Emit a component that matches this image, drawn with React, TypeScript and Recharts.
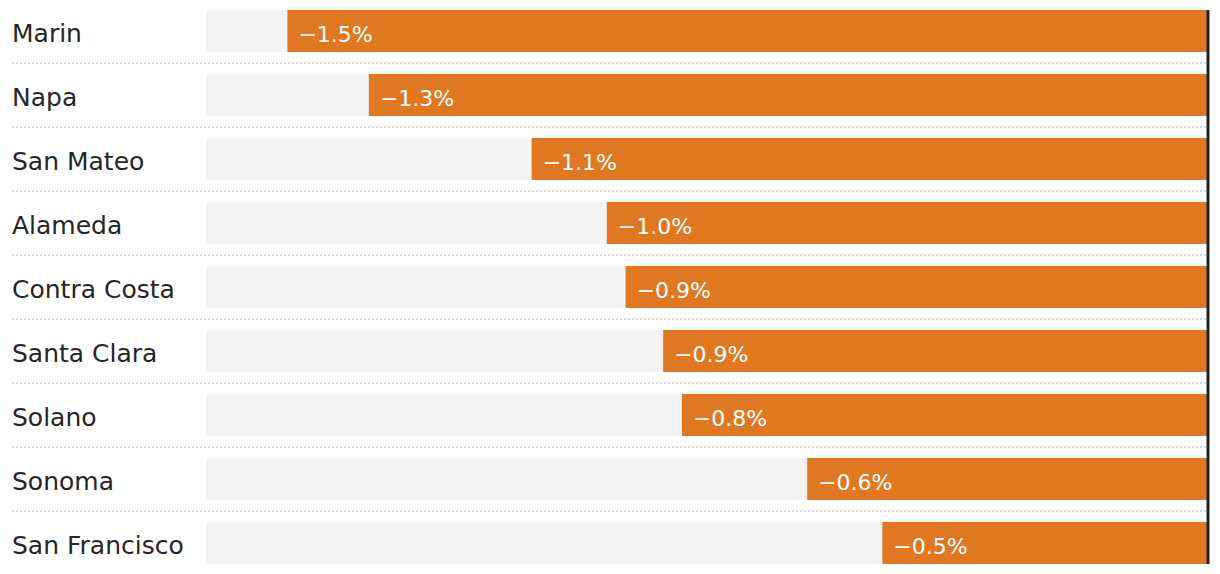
import React from "react";
import { BarChart, Bar, XAxis, YAxis, ReferenceLine, LabelList } from "recharts";

const counties = [
  "Marin",
  "Napa",
  "San Mateo",
  "Alameda",
  "Contra Costa",
  "Santa Clara",
  "Solano",
  "Sonoma",
  "San Francisco",
];
const changes = [-1.47, -1.34, -1.08, -0.96, -0.93, -0.87, -0.84, -0.64, -0.52];

const data = counties.map((c, i) => ({ county: c, change: changes[i] }));

const CHART_W = 1220;
const CHART_H = 574;
const ORANGE = "#E07822";

const fmt = (v: number) => "\u2212" + Math.abs(v).toFixed(1) + "%";

const CategoryTick = (props: any) => {
  const { y, payload } = props;
  return (
    <g>
      <text
        x={12}
        y={y}
        dy={11}
        fill="#262626"
        fontSize={25}
        fontFamily="'DejaVu Sans', sans-serif"
        textAnchor="start"
      >
        {payload.value}
      </text>
      <line
        x1={12}
        x2={1207}
        y1={y + 32}
        y2={y + 32}
        stroke="#d6d6d6"
        strokeWidth={2}
        strokeDasharray="2 2"
      />
    </g>
  );
};

const ValueLabel = (props: any) => {
  const { x, y, width, height, value } = props;
  const left = Math.min(x, x + width);
  return (
    <text
      x={left + 11}
      y={y + height / 2}
      dy={11}
      fill="#fff"
      fontSize={22}
      fontFamily="'DejaVu Sans', sans-serif"
      textAnchor="start"
    >
      {fmt(value)}
    </text>
  );
};

const ZeroLine = (props: any) => {
  const { x1, x2, y1, y2 } = props;
  const top = Math.min(y1, y2);
  const bottom = Math.max(y1, y2);
  return <line x1={x1} x2={x2} y1={top + 11} y2={bottom - 11} stroke="#222" strokeWidth={3} />;
};

export default function App() {
  return (
    <div
      style={{
        position: "absolute",
        left: 0,
        top: 0,
        width: CHART_W,
        height: CHART_H,
        overflow: "hidden",
        background: "#fff",
      }}
    >
      <BarChart
        width={CHART_W}
        height={CHART_H}
        data={data}
        layout="vertical"
        margin={{ top: -1, right: 12, bottom: -1, left: 0 }}
        barCategoryGap={0}
      >
        <XAxis type="number" domain={[-1.6, 0]} hide />
        <YAxis
          type="category"
          dataKey="county"
          width={206}
          axisLine={false}
          tickLine={false}
          tick={<CategoryTick />}
          interval={0}
        />
        <Bar
          dataKey="change"
          fill={ORANGE}
          barSize={42}
          background={{ fill: "#f3f3f3" }}
          isAnimationActive={false}
        >
          <LabelList dataKey="change" content={<ValueLabel />} />
        </Bar>
        <ReferenceLine x={0} shape={<ZeroLine />} ifOverflow="visible" />
      </BarChart>
    </div>
  );
}
